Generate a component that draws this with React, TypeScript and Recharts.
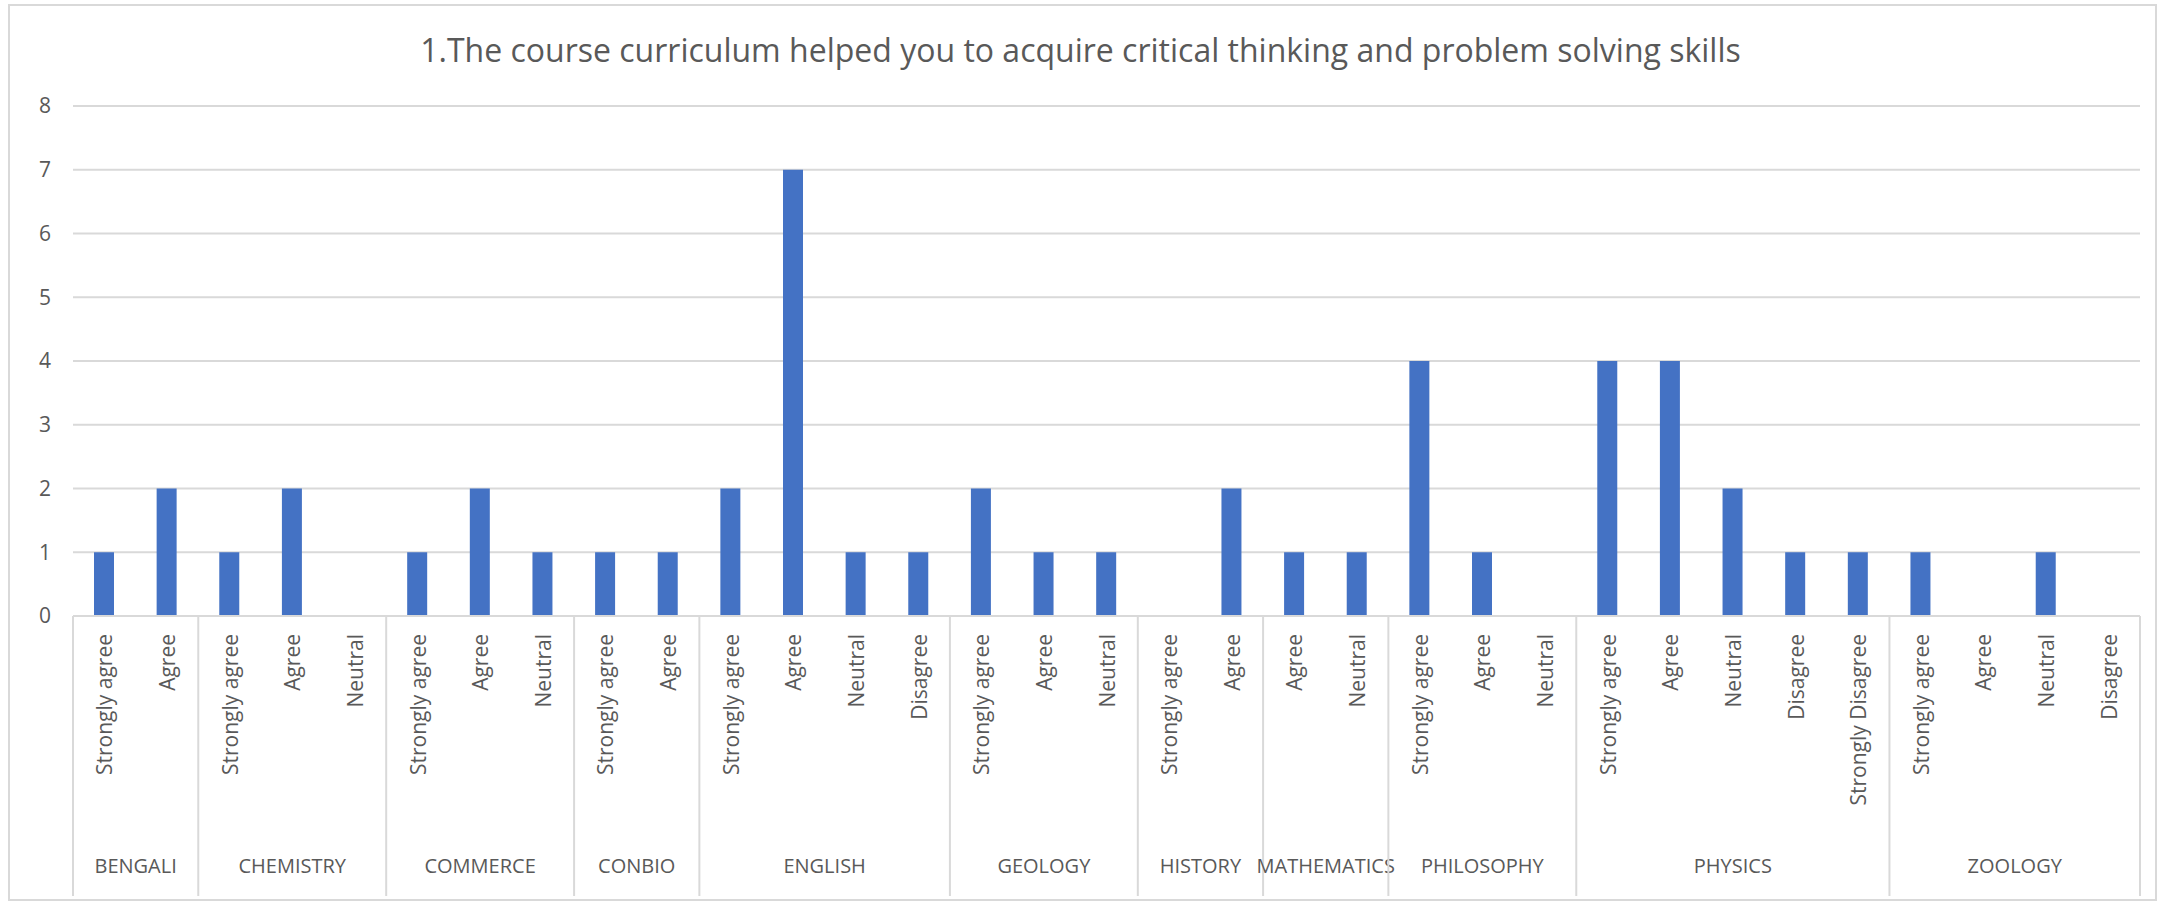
import React from "react";
import { BarChart, Bar, XAxis, YAxis, CartesianGrid } from "recharts";

// Subjects (outer category level)
const groups = [
  "BENGALI",
  "CHEMISTRY",
  "COMMERCE",
  "CONBIO",
  "ENGLISH",
  "GEOLOGY",
  "HISTORY",
  "MATHEMATICS",
  "PHILOSOPHY",
  "PHYSICS",
  "ZOOLOGY",
];

// Responses listed under each subject (inner category level)
const groupResponses = [
  ["Strongly agree", "Agree"],
  ["Strongly agree", "Agree", "Neutral"],
  ["Strongly agree", "Agree", "Neutral"],
  ["Strongly agree", "Agree"],
  ["Strongly agree", "Agree", "Neutral", "Disagree"],
  ["Strongly agree", "Agree", "Neutral"],
  ["Strongly agree", "Agree"],
  ["Agree", "Neutral"],
  ["Strongly agree", "Agree", "Neutral"],
  ["Strongly agree", "Agree", "Neutral", "Disagree", "Strongly Disagree"],
  ["Strongly agree", "Agree", "Neutral", "Disagree"],
];

// Counts per response
const groupCounts = [
  [1, 2],
  [1, 2, 0],
  [1, 2, 1],
  [1, 1],
  [2, 7, 1, 1],
  [2, 1, 1],
  [0, 2],
  [1, 1],
  [4, 1, 0],
  [4, 4, 2, 1, 1],
  [1, 0, 1, 0],
];

const yTicks = [0, 1, 2, 3, 4, 5, 6, 7, 8];

const TITLE =
  "1.The course curriculum helped you to acquire critical thinking and problem solving skills";

type Row = {
  key: string;
  group: string;
  label: string;
  value: number;
  groupStart: boolean;
  groupSize: number;
};

const rows: Row[] = [];
groups.forEach((g, gi) => {
  groupResponses[gi].forEach((label, li) => {
    rows.push({
      key: `${g}|${label}`,
      group: g,
      label,
      value: groupCounts[gi][li],
      groupStart: li === 0,
      groupSize: groupResponses[gi].length,
    });
  });
});

const W = 2161;
const H = 905;
const LEFT = 73;
const RIGHT = 21;
const TOP = 106;
const AXIS_Y = 616;
const SLOT = (W - LEFT - RIGHT) / rows.length;
const GRAY = "#595959";
const LINE = "#d9d9d9";
const FONT = "'Open Sans', sans-serif";

const CatTick = (props: any) => {
  const { x, y, payload } = props;
  const row = rows[payload.index];
  if (!row) return null;
  const ty = y + 18;
  const isLast = payload.index === rows.length - 1;
  return (
    <g>
      <text
        x={x}
        y={ty}
        transform={`rotate(-90, ${x}, ${ty})`}
        textAnchor="end"
        dominantBaseline="central"
        fill={GRAY}
        fontSize={21}
        fontFamily={FONT}
      >
        {row.label}
      </text>
      {row.groupStart && (
        <>
          <line
            x1={x - SLOT / 2}
            x2={x - SLOT / 2}
            y1={y}
            y2={896}
            stroke={LINE}
            strokeWidth={2}
          />
          <text
            x={x - SLOT / 2 + (row.groupSize * SLOT) / 2}
            y={873}
            textAnchor="middle"
            fill={GRAY}
            fontSize={20}
            fontFamily={FONT}
          >
            {row.group}
          </text>
        </>
      )}
      {isLast && (
        <line
          x1={x + SLOT / 2}
          x2={x + SLOT / 2}
          y1={y}
          y2={896}
          stroke={LINE}
          strokeWidth={2}
        />
      )}
    </g>
  );
};

export default function App() {
  return (
    <div
      style={{
        position: "absolute",
        left: 0,
        top: 0,
        width: W,
        height: H,
        background: "#fff",
      }}
    >
      <div
        style={{
          position: "absolute",
          left: 8,
          top: 4,
          width: W - 12,
          height: H - 8,
          border: `2px solid ${LINE}`,
          boxSizing: "border-box",
        }}
      />
      <div
        style={{
          position: "absolute",
          left: 0,
          top: 28,
          width: W,
          textAlign: "center",
          fontFamily: FONT,
          fontSize: 32,
          color: GRAY,
        }}
      >
        {TITLE}
      </div>
      <div style={{ position: "absolute", left: 0, top: 0 }}>
        <BarChart
          width={W}
          height={H}
          data={rows}
          margin={{ top: TOP, right: RIGHT, bottom: 0, left: 0 }}
          barCategoryGap="34%"
        >
          <CartesianGrid vertical={false} stroke={LINE} strokeWidth={2} />
          <XAxis
            dataKey="key"
            interval={0}
            height={H - AXIS_Y}
            tickLine={false}
            tickSize={0}
            tickMargin={0}
            axisLine={{ stroke: LINE, strokeWidth: 2 }}
            tick={<CatTick />}
          />
          <YAxis
            domain={[0, 8]}
            ticks={yTicks}
            width={LEFT}
            axisLine={false}
            tickLine={false}
            tickSize={0}
            tickMargin={22}
            tick={{ fill: GRAY, fontSize: 21, fontFamily: FONT }}
          />
          <Bar
            dataKey="value"
            fill="#4472C4"
            barSize={20}
            isAnimationActive={false}
          />
        </BarChart>
      </div>
    </div>
  );
}
